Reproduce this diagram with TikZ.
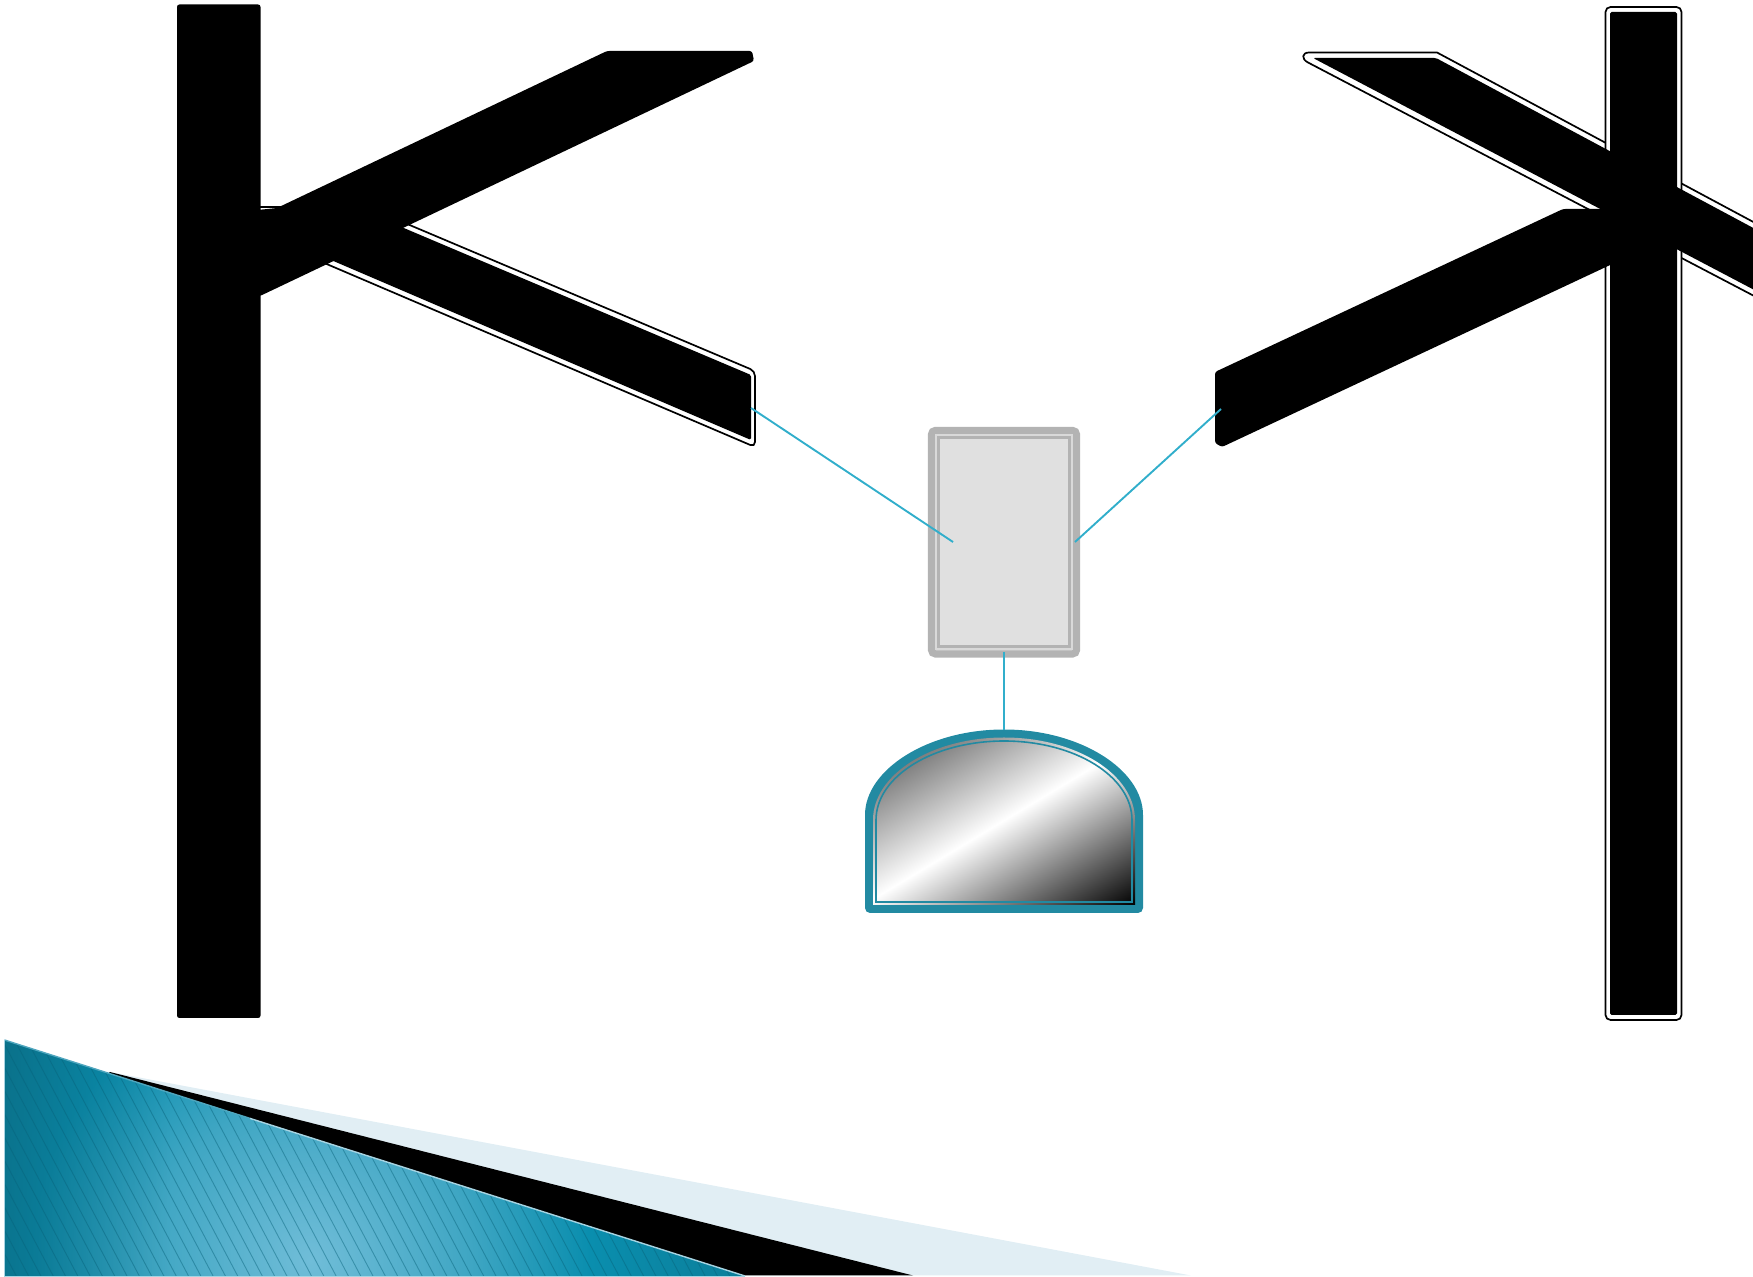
\documentclass[tikz,border=0pt]{standalone}
\usetikzlibrary{fadings}
\definecolor{tealband}{HTML}{228AA2}
\definecolor{wire}{HTML}{31AECB}
\definecolor{boxfill}{HTML}{E0E0E0}
\definecolor{boxlight}{HTML}{D9D9D9}
\definecolor{boxband}{HTML}{B3B3B3}
\definecolor{paleblue}{HTML}{E1EEF4}
\definecolor{tealedge}{HTML}{A7D4E2}
\definecolor{tealedgedim}{HTML}{4FA6BE}
\definecolor{stripe}{HTML}{07627A}
\definecolor{glowA}{HTML}{70BDD8}
\definecolor{glowB}{HTML}{3FA6C3}
\definecolor{glowC}{HTML}{0A8EAE}
\definecolor{glowD}{HTML}{0C7A94}
\definecolor{glowDark}{HTML}{0A5F74}
\pgfdeclarehorizontalshading{domegrad}{100bp}{color(0bp)=(black!72); color(25bp)=(black!72); color(50bp)=(white); color(75bp)=(black); color(100bp)=(black)}
\pgfdeclareradialshading{tealglow}{\pgfpoint{0bp}{0bp}}{color(0bp)=(glowA); color(8bp)=(glowB); color(14bp)=(glowC); color(24bp)=(glowD); color(50bp)=(glowD)}
\tikzset{
  outlined/.style={draw=black,line width=0.85pt,fill=white,rounded corners=2.5pt},
  solidblack/.style={fill=black,rounded corners=1.2pt},
  softblack/.style={fill=black,rounded corners=0.8pt},
  wireline/.style={draw=wire,line width=1.4pt},
  thinwire/.style={draw=wire,line width=0.95pt},
  stripeline/.style={draw=stripe,line width=0.45pt,opacity=0.45},
  boxnode/.style={draw=boxband,fill=boxfill,line width=3.6pt,rounded corners=2pt,inner sep=0pt,outer sep=0pt}
}
\begin{document}
\begin{tikzpicture}[x=0.5pt,y=-0.5pt]
\useasboundingbox (0,0) rectangle (1753,1277);
\clip (0,0) rectangle (1753,1277);

% bottom-left decoration
\fill[paleblue] (110,1072) -- (1191,1275.5) -- (745,1275.5) -- cycle;
\fill[black] (110,1072) -- (913,1275.5) -- (700,1275.5) -- (106,1075.5) -- cycle;
\begin{scope}
  \clip (4.5,1040) -- (745,1276) -- (4.5,1276) -- cycle;
  \shade[shading=tealglow] (-190,760) rectangle (810,1760);
  \fill[glowDark,opacity=0.5,path fading=east] (4,1030) rectangle (170,1280);
  \foreach \s in {0,...,74}{
    \draw[stripeline] ({4+\s*12.3},1276) -- ({4+\s*12.3-130},1030);
  }
\end{scope}
\draw[tealedgedim,line width=0.7pt] (4.5,1040) -- (250,1118.4);
\draw[tealedge,line width=0.7pt] (250,1118.4) -- (745,1276);
\draw[tealedge,line width=0.4pt] (4.5,1040) -- (4.5,1276) -- (745,1276);

% left K: outlined lower arm
\path[outlined] (240,207) -- (367,207) -- (755,371) -- (755,447) -- (240,227) -- cycle;
\path[softblack] (240,212) -- (366,212) -- (751,375) -- (751,440) -- (240,221) -- cycle;
% left K: upper arm and stem
\path[solidblack] (200,216) -- (277,208) -- (607,51) -- (752,51) -- (754,61) -- (260,296) -- (200,296) -- cycle;
\path[solidblack] (177,4.5) rectangle (260.5,1018);

% right: outlined arm and stem
\path[outlined,sharp corners] (1309,52.5) -- (1437,52.5) -- (1800,247) -- (1800,320) -- (1308,62.5)
  .. controls (1301,59) and (1302,52.5) .. (1309,52.5) -- cycle;
\path[outlined] (1605.5,7) rectangle (1681.5,1020);
\path[softblack] (1313,58) -- (1436,58) -- (1800,253) -- (1800,314) -- cycle;
\path[softblack] (1610,12) rectangle (1677,1015);
% right: plain arm
\path[solidblack] (1215,372) -- (1563,209) -- (1640,209) -- (1640,251) -- (1222,447) -- (1215,443) -- cycle;

% centre box
\node[boxnode,minimum width=72.5pt,minimum height=111.75pt,anchor=center] (box) at (1004,542.2) {};
\draw[boxlight,line width=1.15pt] (936,435.2) rectangle (1072,649.2);
\draw[boxband,line width=1.3pt] (938.4,437.6) rectangle (1069.6,646.8);

% dome
\fill[tealband,rounded corners=2.5pt] (865,913) -- (865,820)
  arc[start angle=180,end angle=360,x radius=139,y radius=90.5] -- (1143,913) -- cycle;
\begin{scope}
  \clip (873,905) -- (873,820) arc[start angle=180,end angle=360,x radius=131,y radius=82.5] -- (1135,905) -- cycle;
  \shade[shading=domegrad,shading angle=-59] (864,680) rectangle (1144,960);
\end{scope}
\draw[tealband,line width=0.8pt] (876,902) -- (876,820)
  arc[start angle=180,end angle=360,x radius=128,y radius=79] -- (1132,902) -- cycle;

% connector end points
\coordinate (armL) at (751,408);
\coordinate (armR) at (1221,409);
\coordinate (boxL) at (953,542);
\coordinate (boxR) at (1075,542);
\coordinate (boxB) at (1004,652);
\coordinate (domeT) at (1004,730);
\draw[thinwire] (armL) -- (boxL);
\draw[thinwire] (armR) -- (boxR);
\draw[wireline] (boxB) -- (domeT);
\end{tikzpicture}
\end{document}
